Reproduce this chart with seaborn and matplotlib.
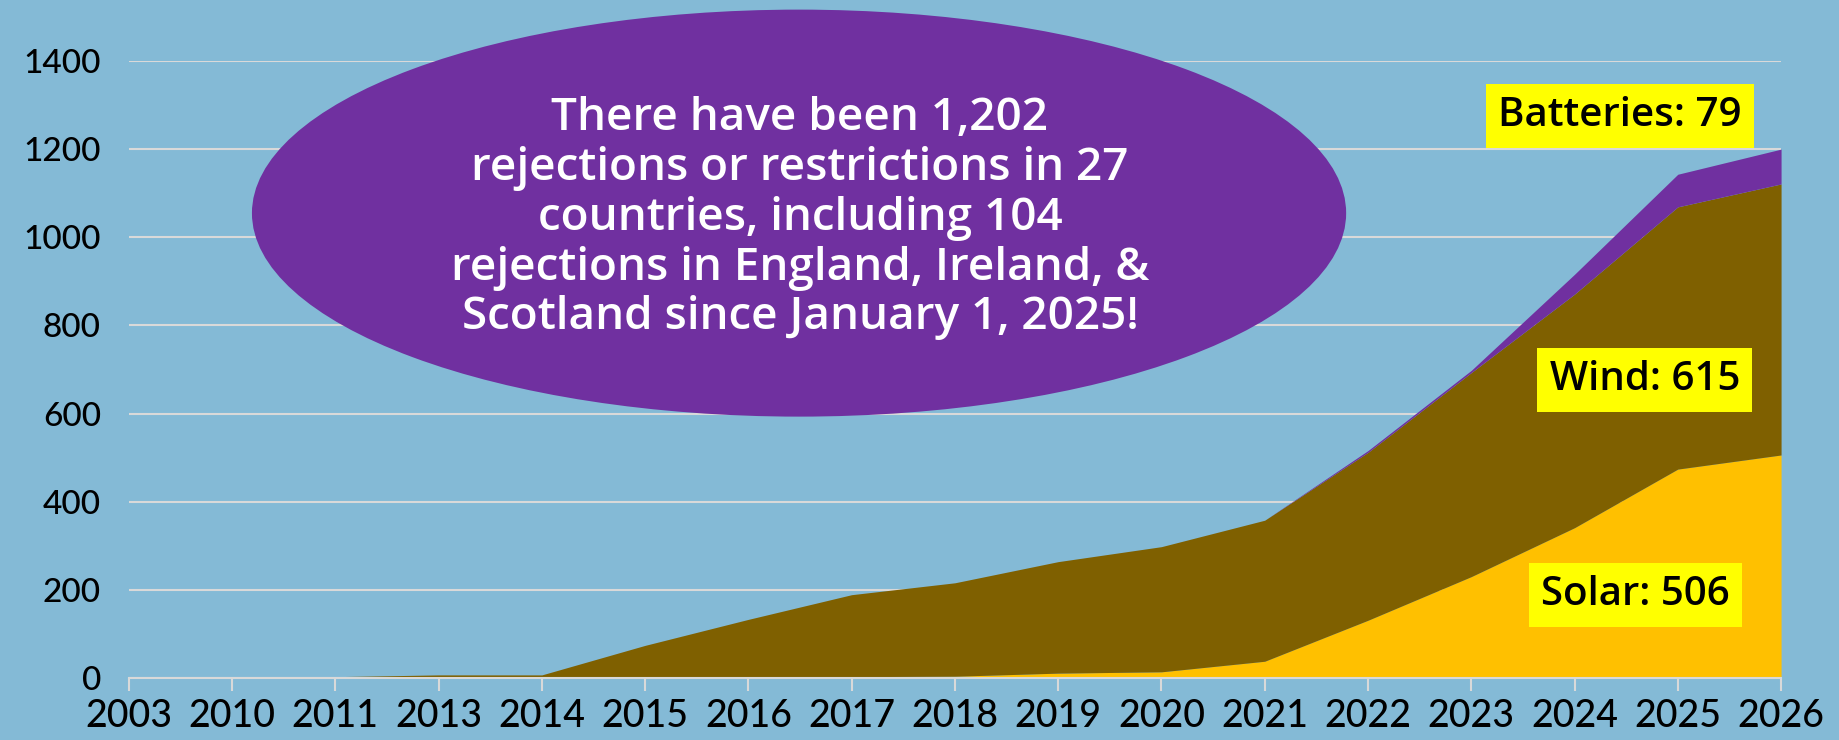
#%% libraries
import pandas as pd
import matplotlib
matplotlib.use("Agg")
import matplotlib.pyplot as plt
from matplotlib.patches import Ellipse
import seaborn as sns

#%% data
years = ["2003", "2010", "2011", "2013", "2014", "2015", "2016", "2017", "2018",
         "2019", "2020", "2021", "2022", "2023", "2024", "2025", "2026"]
solar = [0, 0, 0, 0, 0, 0, 1, 3, 4, 11, 14, 38, 131, 230, 341, 474, 506]
wind = [0, 1, 3, 7, 7, 74, 132, 186, 212, 253, 284, 320, 381, 463, 530, 595, 615]
batteries = [0, 0, 0, 0, 0, 0, 0, 0, 0, 0, 0, 0, 4, 5, 45, 74, 79]

yTicks = [0, 200, 400, 600, 800, 1000, 1200, 1400]
headline = ("There have been 1,202\nrejections or restrictions in 27\n"
            "countries, including 104\nrejections in England, Ireland, &\n"
            "Scotland since January 1, 2025!")

rejections = pd.DataFrame({"Year": years, "Solar": solar, "Wind": wind, "Batteries": batteries})
rejections["pos"] = range(len(years))
rejections["solarTop"] = rejections["Solar"]
rejections["windTop"] = rejections["solarTop"] + rejections["Wind"]
rejections["batteryTop"] = rejections["windTop"] + rejections["Batteries"]

#%% style
bgColor = "#84BAD6"
sns.set_style("white", {"axes.facecolor": bgColor, "figure.facecolor": bgColor})
plt.rcParams["font.family"] = ["Open Sans", "DejaVu Sans"]

#%% plot
fig = plt.figure(figsize=(18.39, 7.4), dpi=100)
ax = fig.add_axes([0.070, 0.0838, 0.8985, 0.8338])

ax.fill_between(rejections["pos"], 0, rejections["solarTop"], color="#FFC000", lw=0, zorder=3)
ax.fill_between(rejections["pos"], rejections["solarTop"], rejections["windTop"], color="#7F6000", lw=0, zorder=3)
ax.fill_between(rejections["pos"], rejections["windTop"], rejections["batteryTop"], color="#7030A0", lw=0, zorder=3)

ax.set_xlim(0, len(years) - 1)
ax.set_ylim(0, 1400)
ax.set_xticks(rejections["pos"])
ax.set_xticklabels(years, fontsize=27, family="Lato", weight="medium", color="black")
ax.set_yticks(yTicks)
ax.set_yticklabels([str(t) for t in yTicks], fontsize=24, family="Lato", weight="medium", color="black")
ax.grid(axis="y", color="#D9D9D9", lw=1.5, zorder=1)
ax.grid(axis="x", visible=False)
for side in ["top", "right", "left"]:
    ax.spines[side].set_visible(False)
ax.spines["bottom"].set_color("#D9D9D9")
ax.spines["bottom"].set_linewidth(1.5)
ax.spines["bottom"].set_zorder(4)
ax.tick_params(axis="x", length=9, width=1.5, color="#D9D9D9", pad=6, bottom=True)
ax.tick_params(axis="y", length=0, pad=20)

# series labels
labelBox = dict(facecolor="#FFFF00", edgecolor="none", boxstyle="square,pad=0.3")
labelFont = dict(fontsize=29, weight="semibold", color="black", ha="center", va="center", zorder=6)
ax.text(14.44, 1275, "Batteries: 79", bbox=labelBox, **labelFont)
ax.text(14.68, 676, "Wind: 615", bbox=labelBox, **labelFont)
ax.text(14.59, 188, "Solar: 506", bbox=labelBox, **labelFont)

# headline bubble
bubble = Ellipse((0.4345, 0.712), 0.595, 0.55, transform=fig.transFigure,
                 facecolor="#7030A0", edgecolor="none", zorder=5)
fig.patches.append(bubble)
fig.text(0.435, 0.705, headline, color="white", fontsize=33, weight="semibold",
         ha="center", va="center", linespacing=1.14, zorder=6)

fig.savefig("out.png", dpi=100, facecolor=bgColor)
